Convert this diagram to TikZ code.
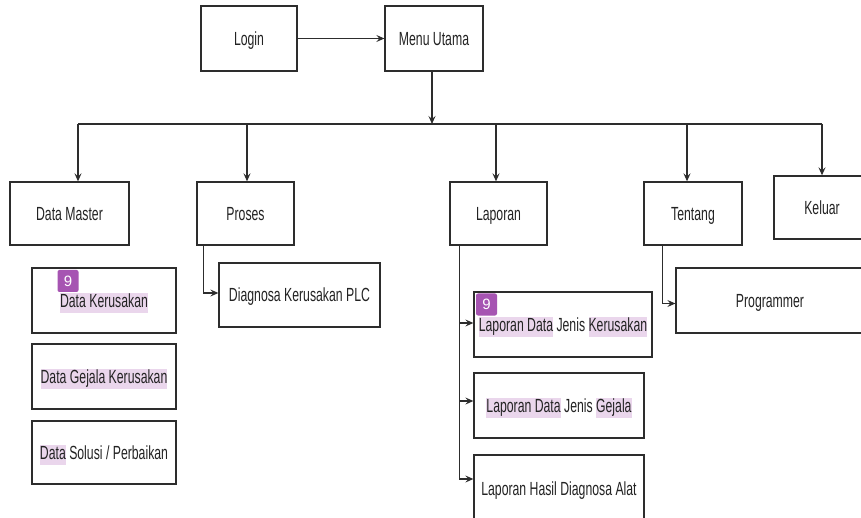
\documentclass[tikz,border=0pt]{standalone}
\usepackage{fontspec}
\setmainfont{Liberation Sans}[FakeStretch=0.645]
\newfontfamily\badgefont{Liberation Sans}
\usetikzlibrary{arrows.meta}
\definecolor{hlcol}{RGB}{234,214,236}
\definecolor{badgecol}{RGB}{166,84,178}
\definecolor{linecol}{RGB}{45,45,45}
\definecolor{txtcol}{RGB}{35,35,35}
\newcommand\hlt[1]{{\setlength\fboxsep{0pt}\colorbox{hlcol}{\strut #1}}}
\tikzset{
  box/.style={draw=linecol, line width=1.3pt, fill=white, inner sep=0pt,
    text=txtcol, font=\fontsize{19}{20}\selectfont, align=center,
    text height=14pt, text depth=0.5pt},
  conn/.style={draw=linecol, line width=1.2pt},
  arr/.style={conn, -{Stealth[length=8pt,width=7pt,inset=3pt]}},
  badge/.style={fill=badgecol, rounded corners=2pt, text=white, inner sep=0pt,
    minimum width=21pt, minimum height=22pt, font=\badgefont\fontsize{15}{15}\selectfont}
}
\begin{document}
\begin{tikzpicture}[x=1pt,y=-1pt]
\fill[white] (0,0) rectangle (861,518);
\clip (0,0) rectangle (861,518);
% top level
\node[box, minimum width=96pt, minimum height=65pt] (login) at (249,38.5) {Login};
\node[box, minimum width=98pt, minimum height=65pt] (menu) at (434,38.5) {Menu Utama};
% second level
\node[box, minimum width=119pt, minimum height=63pt] (dm) at (69.5,213.5) {Data Master};
\node[box, minimum width=97pt, minimum height=63pt] (proses) at (245.5,213.5) {Proses};
\node[box, minimum width=97pt, minimum height=63pt] (laporan) at (498.5,213.5) {Laporan};
\node[box, minimum width=98pt, minimum height=63pt] (tentang) at (693,213.5) {Tentang};
\node[box, minimum width=96pt, minimum height=63pt] (keluar) at (822,207.5) {Keluar};
% data master children
\node[box, minimum width=144pt, minimum height=65pt] (dk) at (104,300.5) {\hlt{Data Kerusakan}};
\node[box, minimum width=144pt, minimum height=65pt] (dg) at (104,376.5) {\hlt{Data Gejala Kerusakan}};
\node[box, minimum width=144pt, minimum height=63pt] (ds) at (104,452.5) {\hlt{Data} Solusi / Perbaikan};
% proses child
\node[box, minimum width=161pt, minimum height=64pt] (diag) at (299.5,295) {Diagnosa Kerusakan PLC};
% laporan children
\node[box, minimum width=178pt, minimum height=65pt] (l1) at (563,324.5) {\hlt{Laporan Data} Jenis \hlt{Kerusakan}};
\node[box, minimum width=170pt, minimum height=65pt] (l2) at (559,405.5) {\hlt{Laporan Data} Jenis \hlt{Gejala}};
\node[box, minimum width=170pt, minimum height=68pt] (l3) at (559,489) {Laporan Hasil Diagnosa Alat};
% tentang child
\node[box, minimum width=188pt, minimum height=65pt] (prog) at (770,300.5) {Programmer};
% badges
\node[badge] (b1) at (68,281) {9};
\node[badge] (b2) at (486.5,304.5) {9};
% connectors
\draw[arr] (login.east) -- (menu.west);
\coordinate (busL) at (78,124);
\coordinate (busR) at (822,124);
\coordinate (d2) at (247,124);
\coordinate (d3) at (496,124);
\coordinate (d4) at (687,124);
\draw[arr] ([xshift=-2pt]menu.south) -- ([xshift=-2pt]menu.south |- busL);
\draw[conn] (busL) -- (busR);
\draw[arr] (busL) -- (busL |- dm.north);
\draw[arr] (d2) -- (d2 |- proses.north);
\draw[arr] (d3) -- (d3 |- laporan.north);
\draw[arr] (d4) -- (d4 |- tentang.north);
\draw[arr] (busR) -- (busR |- keluar.north);
\draw[arr] ([xshift=7pt]proses.south west) |- ([yshift=2pt]diag.west);
\draw[arr] ([xshift=10pt]laporan.south west) |- ([yshift=1.5pt]l1.west);
\draw[arr] ([xshift=10pt]laporan.south west) |- ([yshift=4.5pt]l2.west);
\draw[arr] ([xshift=10pt]laporan.south west) |- ([yshift=10pt]l3.west);
\draw[arr] ([xshift=19pt]tentang.south west) |- ([yshift=-3pt]prog.west);
\end{tikzpicture}
\end{document}
